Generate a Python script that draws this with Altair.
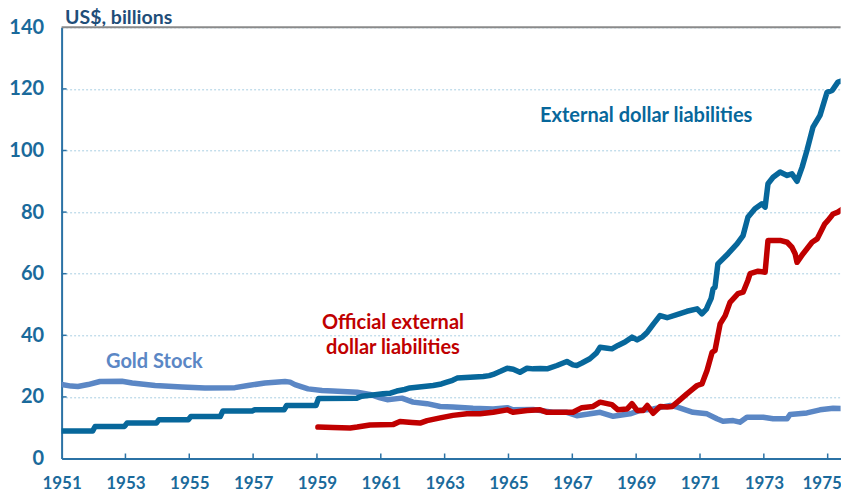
import altair as alt
import pandas as pd

# ---- data ----
ext_years = [1951.0, 1951.97, 1952.05, 1952.97, 1953.05, 1953.97, 1954.05, 1954.97, 1955.05, 1955.97,
             1956.05, 1956.97, 1957.05, 1957.97, 1958.05, 1958.97, 1959.05, 1960.25, 1960.4, 1960.75,
             1961.07, 1961.3, 1961.5, 1961.75, 1961.91, 1962.2, 1962.64, 1962.9, 1963.07, 1963.25,
             1963.39, 1963.8, 1964.21, 1964.4, 1964.52, 1964.75, 1964.96, 1965.15, 1965.36, 1965.58,
             1965.77, 1966.0, 1966.21, 1966.52, 1966.83, 1967.02, 1967.14, 1967.3, 1967.55, 1967.75,
             1967.87, 1968.1, 1968.24, 1968.43, 1968.65, 1968.87, 1969.03, 1969.2, 1969.35, 1969.55,
             1969.75, 1969.97, 1970.3, 1970.59, 1970.91, 1971.06, 1971.2, 1971.25, 1971.35, 1971.41,
             1971.47, 1971.56, 1971.88, 1972.16, 1972.35, 1972.5, 1972.72, 1972.94, 1973.04, 1973.13,
             1973.29, 1973.51, 1973.73, 1973.88, 1974.04, 1974.2, 1974.35, 1974.54, 1974.76, 1974.98,
             1975.14, 1975.32, 1975.48, 1975.64]
ext_values = [8.9, 8.9, 10.4, 10.4, 11.5, 11.5, 12.6, 12.6, 13.6, 13.6,
              15.4, 15.4, 15.8, 15.8, 17.2, 17.2, 19.5, 19.6, 20.2, 20.6,
              21.0, 21.2, 21.9, 22.4, 22.9, 23.2, 23.7, 24.2, 24.8, 25.4,
              26.1, 26.4, 26.6, 26.9, 27.3, 28.3, 29.3, 29.0, 28.0, 29.3,
              29.1, 29.2, 29.1, 30.2, 31.5, 30.4, 30.2, 31.0, 32.4, 34.2,
              36.1, 35.8, 35.6, 36.7, 37.8, 39.4, 38.5, 39.5, 41.0, 43.8,
              46.4, 45.7, 46.8, 47.8, 48.6, 47.0, 48.5, 49.7, 52.0, 55.1,
              55.6, 63.2, 66.5, 69.7, 72.4, 78.3, 81.1, 82.7, 81.6, 89.2,
              91.3, 93.0, 91.9, 92.4, 90.0, 94.6, 100.0, 107.6, 111.4, 118.9,
              119.5, 122.2, 122.7, 124.4]

off_years = [1959.03, 1959.5, 1960.04, 1960.26, 1960.66, 1961.38, 1961.6, 1961.98, 1962.23, 1962.45,
             1962.86, 1963.26, 1963.7, 1964.11, 1964.52, 1964.96, 1965.14, 1965.58, 1965.99, 1966.21,
             1966.83, 1967.02, 1967.3, 1967.65, 1967.87, 1968.24, 1968.43, 1968.72, 1968.87, 1969.03,
             1969.22, 1969.35, 1969.53, 1969.75, 1969.97, 1970.13, 1970.29, 1970.59, 1970.78, 1970.91,
             1971.06, 1971.22, 1971.38, 1971.47, 1971.63, 1971.79, 1971.94, 1972.19, 1972.35, 1972.5,
             1972.57, 1972.82, 1973.04, 1973.13, 1973.51, 1973.73, 1973.88, 1973.98, 1974.04, 1974.23,
             1974.51, 1974.67, 1974.91, 1975.01, 1975.17, 1975.32, 1975.48, 1975.64]
off_values = [10.2, 10.1, 9.9, 10.2, 10.9, 11.0, 12.0, 11.7, 11.5, 12.3,
              13.2, 14.0, 14.5, 14.5, 15.0, 15.8, 15.0, 15.6, 15.8, 15.0,
              15.0, 15.0, 16.5, 16.9, 18.3, 17.5, 15.8, 16.1, 17.8, 15.6,
              15.6, 17.2, 14.7, 16.9, 16.7, 16.9, 18.3, 21.0, 22.6, 23.7,
              24.2, 28.6, 34.5, 35.1, 43.7, 46.4, 50.7, 53.5, 54.0, 57.8,
              60.0, 60.8, 60.5, 70.8, 70.8, 70.2, 68.6, 66.5, 63.7, 66.5,
              70.2, 71.3, 76.2, 77.3, 79.4, 80.0, 81.1, 78.3]

gold_years = [1951.0, 1951.3, 1951.51, 1951.83, 1952.2, 1952.89, 1953.21, 1953.93, 1954.77, 1955.49,
              1956.43, 1956.84, 1957.37, 1958.0, 1958.16, 1958.31, 1958.72, 1959.16, 1959.5, 1960.26,
              1960.66, 1960.98, 1961.2, 1961.66, 1962.01, 1962.45, 1962.86, 1963.26, 1963.89, 1964.52,
              1964.96, 1965.14, 1965.77, 1966.39, 1966.83, 1967.14, 1967.87, 1968.28, 1968.81, 1969.12,
              1969.53, 1970.07, 1970.29, 1970.78, 1971.22, 1971.53, 1971.72, 1972.04, 1972.25, 1972.47,
              1972.98, 1973.29, 1973.73, 1973.82, 1974.35, 1974.76, 1975.17, 1975.64]
gold_values = [24.0, 23.5, 23.4, 24.0, 25.0, 25.1, 24.5, 23.7, 23.2, 22.9,
               23.0, 23.7, 24.5, 25.0, 24.8, 24.0, 22.6, 22.1, 21.9, 21.5,
               20.8, 19.7, 19.1, 19.6, 18.3, 17.8, 16.9, 16.7, 16.3, 16.1,
               16.5, 15.8, 15.9, 15.0, 15.0, 13.9, 15.0, 13.7, 14.5, 15.6,
               16.1, 17.2, 16.7, 15.0, 14.5, 12.9, 12.1, 12.3, 11.8, 13.4,
               13.4, 12.9, 12.9, 14.3, 14.8, 15.8, 16.3, 16.1]

y_ticks = [0, 20, 40, 60, 80, 100, 120, 140]
x_ticks = [1951, 1953, 1955, 1957, 1959, 1961, 1963, 1965, 1967, 1969, 1971, 1973, 1975]

# ---- style ----
W, H = 779, 431.2
X_END = 1951 + W / 31.92
FONT = "Lato"
AXIS_COL = "#2b72a5"
LABEL_COL = "#1a6a9b"
EXT_COL = "#07679b"
OFF_COL = "#c00000"
GOLD_COL = "#5b87c5"

ext_df = pd.DataFrame({"year": ext_years, "value": ext_values})
off_df = pd.DataFrame({"year": off_years, "value": off_values})
gold_df = pd.DataFrame({"year": gold_years, "value": gold_values})

xs = alt.Scale(domain=[1951, X_END], nice=False, zero=False)
ys = alt.Scale(domain=[0, 140], nice=False, zero=True)

x_axis = alt.Axis(values=x_ticks, format="d", labelPadding=17, tickSize=0, grid=False,
                  domainColor=AXIS_COL, domainWidth=2, labelFont=FONT, labelFontWeight="bold",
                  labelFontSize=17, labelColor=LABEL_COL, title=None, labelFlush=False,
                  labelOffset={"condition": {"test": "datum.value == 1975", "value": -6}, "value": 0})
y_axis = alt.Axis(values=y_ticks, tickSize=0, labelPadding=18, grid=True, gridColor="#a9cfe3",
                  gridDash=[2, 2], gridWidth=1, domainColor=AXIS_COL, domainWidth=2,
                  labelFont=FONT, labelFontWeight="bold", labelFontSize=20, labelColor=LABEL_COL,
                  title="US$, billions", titleAngle=0, titleAlign="left", titleBaseline="alphabetic",
                  titleX=3, titleY=-4, titleFont=FONT, titleFontSize=19.5, titleFontWeight="bold",
                  titleColor="#1f4e79")


def line(df, col):
    return alt.Chart(df).mark_line(color=col, strokeWidth=5.5, strokeJoin="round",
                                   strokeCap="round", clip=True).encode(
        x=alt.X("year:Q", scale=xs, axis=x_axis),
        y=alt.Y("value:Q", scale=ys, axis=y_axis))


gold_line = line(gold_df, GOLD_COL)
ext_line = line(ext_df, EXT_COL)
off_line = line(off_df, OFF_COL)

top_rule = alt.Chart(pd.DataFrame({"value": [140]})).mark_rule(color="#8a8a8a", strokeWidth=2).encode(
    y=alt.Y("value:Q", scale=ys, axis=y_axis))

xt_df = pd.DataFrame({"year": x_ticks[1:]})
x_tick_marks = alt.Chart(xt_df).mark_rule(color=AXIS_COL, strokeWidth=1.5).encode(
    x=alt.X("year:Q", scale=xs, axis=x_axis), y=alt.value(H - 5), y2=alt.value(H))
yt_df = pd.DataFrame({"value": y_ticks[1:-1]})
y_tick_marks = alt.Chart(yt_df).mark_rule(color=AXIS_COL, strokeWidth=1.5).encode(
    y=alt.Y("value:Q", scale=ys, axis=y_axis), x=alt.value(0), x2=alt.value(5))

one = pd.DataFrame({"a": [0]})
ext_lab = alt.Chart(one).mark_text(text="External dollar liabilities", font=FONT, fontWeight="bold",
                                   fontSize=20, color=EXT_COL, align="left", baseline="middle").encode(
    x=alt.value(478.4), y=alt.value(88.7))
off_lab = alt.Chart(one).mark_text(text=["Official external", "dollar liabilities"], font=FONT,
                                   fontWeight="bold", fontSize=20, color=OFF_COL, align="center",
                                   baseline="middle", lineHeight=25).encode(
    x=alt.value(331.4), y=alt.value(295.7))
gold_lab = alt.Chart(one).mark_text(text="Gold Stock", font=FONT, fontWeight="bold", fontSize=20,
                                    color=GOLD_COL, align="left", baseline="middle").encode(
    x=alt.value(44.4), y=alt.value(334.7))

chart = alt.layer(gold_line, ext_line, off_line, top_rule, x_tick_marks, y_tick_marks,
                  ext_lab, off_lab, gold_lab).properties(
    width=W, height=H,
    padding={"left": 53.6, "top": 19.3, "right": 0, "bottom": 33.5},
    autosize=alt.AutoSizeParams(type="none"),
).configure_view(stroke=None)

chart.save("out.html", embed_options={"renderer": "svg", "actions": False})
